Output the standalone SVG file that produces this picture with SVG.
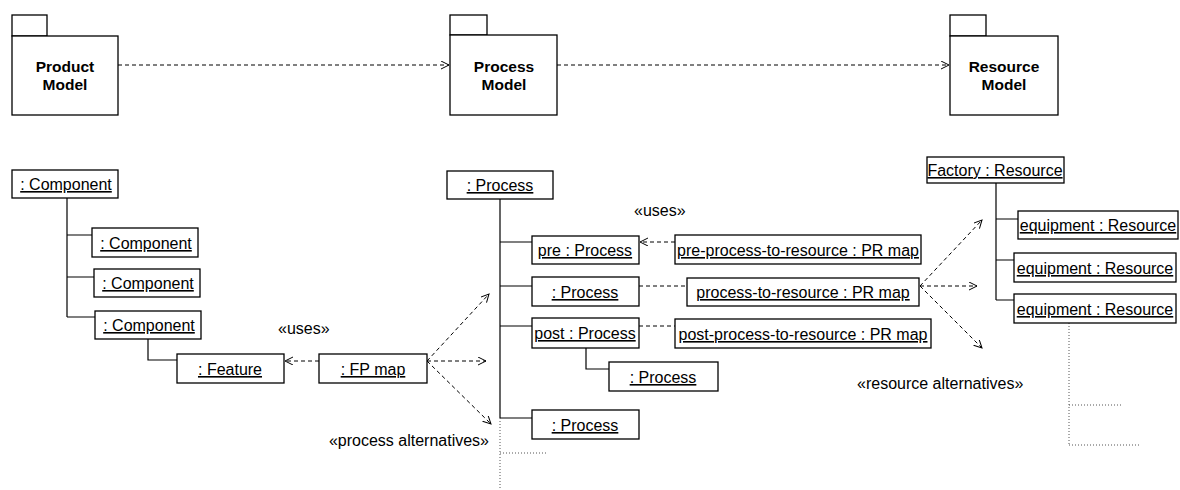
<svg xmlns="http://www.w3.org/2000/svg" width="1180" height="490" viewBox="0 0 1180 490">
<style>
.box{fill:#fff;stroke:#000;stroke-width:1.3}
.t{font-family:"Liberation Sans",Arial,sans-serif;font-size:16px;fill:#000;text-anchor:middle;text-decoration:underline}
.pk{font-family:"Liberation Sans",Arial,sans-serif;font-size:15.5px;font-weight:bold;fill:#000;text-anchor:middle}
.lbl{font-family:"Liberation Sans",Arial,sans-serif;font-size:16px;fill:#000}
.solid{fill:none;stroke:#000;stroke-width:1.2}
.dash{fill:none;stroke:#000;stroke-width:1;stroke-dasharray:4 3}
.dot{fill:none;stroke:#555;stroke-width:1;stroke-dasharray:1 2}
</style>
<defs>
<marker id="arr" markerWidth="10" markerHeight="10" refX="8" refY="4" orient="auto" markerUnits="userSpaceOnUse">
<path d="M0,0 L8,4 L0,8" fill="none" stroke="#000" stroke-width="1"/>
</marker>
</defs>
<rect width="1180" height="490" fill="#fff"/>

<g id="connectors">
<line class="dash" x1="118" y1="65" x2="449" y2="65" marker-end="url(#arr)"/>
<line class="dash" x1="557" y1="65" x2="949" y2="65" marker-end="url(#arr)"/>
<path class="solid" d="M67,198 V317 M67,235 H92 M67,277 H94 M67,317 H95 M148,339 V360 H177"/>
<path class="solid" d="M500,199 V418 M500,242 H532 M500,286 H532 M500,326 H532 M500,418 H532 M586,348 V369 H609"/>
<path class="dot" d="M500,418 V490 M500,453 H548"/>
<path class="solid" d="M996,183 V300 M996,219 H1018 M996,260 H1014 M996,300 H1014"/>
<path class="dot" d="M1069,323 V445 M1069,405 H1121 M1069,445 H1141"/>
<line class="dash" x1="319" y1="361" x2="285" y2="361" marker-end="url(#arr)"/>
<line class="dash" x1="427" y1="361" x2="489" y2="294" marker-end="url(#arr)"/>
<line class="dash" x1="427" y1="361" x2="486" y2="361" marker-end="url(#arr)"/>
<line class="dash" x1="427" y1="361" x2="491" y2="424" marker-end="url(#arr)"/>
<line class="dash" x1="675" y1="242" x2="640" y2="242" marker-end="url(#arr)"/>
<line class="dash" x1="639" y1="286" x2="687" y2="286"/>
<line class="dash" x1="639" y1="326" x2="675" y2="326"/>
<line class="dash" x1="920" y1="286" x2="982" y2="220" marker-end="url(#arr)"/>
<line class="dash" x1="920" y1="286" x2="977" y2="286" marker-end="url(#arr)"/>
<line class="dash" x1="920" y1="286" x2="982" y2="348" marker-end="url(#arr)"/>
</g>

<g id="product-model">
<rect class="box" x="12" y="15" width="35" height="21"/>
<rect class="box" x="12" y="36" width="106" height="79"/>
<text class="pk" x="65" y="72">Product</text>
<text class="pk" x="65" y="90">Model</text>
</g>
<g id="process-model">
<rect class="box" x="450" y="15" width="37" height="20"/>
<rect class="box" x="450" y="35" width="107" height="80"/>
<text class="pk" x="504" y="72">Process</text>
<text class="pk" x="504" y="90">Model</text>
</g>
<g id="resource-model">
<rect class="box" x="950" y="15" width="36" height="21"/>
<rect class="box" x="950" y="36" width="108" height="79"/>
<text class="pk" x="1004" y="72">Resource</text>
<text class="pk" x="1004" y="90">Model</text>
</g>

<g id="component-root"><rect class="box" x="12" y="170" width="106" height="28"/><text class="t" x="66" y="190">: Component</text></g>
<g id="component-1"><rect class="box" x="92" y="228" width="106" height="29"/><text class="t" x="146" y="249">: Component</text></g>
<g id="component-2"><rect class="box" x="94" y="269" width="106" height="28"/><text class="t" x="148" y="289">: Component</text></g>
<g id="component-3"><rect class="box" x="95" y="311" width="106" height="28"/><text class="t" x="149" y="331">: Component</text></g>
<g id="feature"><rect class="box" x="177" y="354" width="107" height="29"/><text class="t" x="230" y="375">: Feature</text></g>
<g id="fp-map"><rect class="box" x="319" y="354" width="108" height="29"/><text class="t" x="373" y="375">: FP map</text></g>

<g id="process-root"><rect class="box" x="447" y="171" width="106" height="28"/><text class="t" x="500" y="191">: Process</text></g>
<g id="pre-process"><rect class="box" x="532" y="236" width="107" height="28"/><text class="t" x="585" y="256">pre : Process</text></g>
<g id="process-mid"><rect class="box" x="532" y="277" width="107" height="29"/><text class="t" x="585" y="298">: Process</text></g>
<g id="post-process"><rect class="box" x="532" y="318" width="107" height="30"/><text class="t" x="585" y="339">post : Process</text></g>
<g id="post-sub-process"><rect class="box" x="609" y="362" width="109" height="29"/><text class="t" x="663" y="383">: Process</text></g>
<g id="process-last"><rect class="box" x="532" y="410" width="107" height="29"/><text class="t" x="585" y="431">: Process</text></g>

<g id="pre-pr-map"><rect class="box" x="675" y="235" width="246" height="29"/><text class="t" x="798" y="256">pre-process-to-resource : PR map</text></g>
<g id="pr-map"><rect class="box" x="687" y="278" width="232" height="28"/><text class="t" x="803" y="298">process-to-resource : PR map</text></g>
<g id="post-pr-map"><rect class="box" x="675" y="319" width="256" height="29"/><text class="t" x="803" y="340">post-process-to-resource : PR map</text></g>

<g id="factory"><rect class="box" x="927" y="157" width="137" height="26"/><text class="t" x="995" y="176">Factory : Resource</text></g>
<g id="equipment-1"><rect class="box" x="1018" y="211" width="160" height="28"/><text class="t" x="1098" y="231">equipment : Resource</text></g>
<g id="equipment-2"><rect class="box" x="1014" y="253" width="162" height="29"/><text class="t" x="1095" y="274">equipment : Resource</text></g>
<g id="equipment-3"><rect class="box" x="1014" y="294" width="162" height="29"/><text class="t" x="1095" y="315">equipment : Resource</text></g>

<g id="labels">
<text class="lbl" x="278" y="334">«uses»</text>
<text class="lbl" x="634" y="216">«uses»</text>
<text class="lbl" x="489" y="446" text-anchor="end">«process alternatives»</text>
<text class="lbl" x="857" y="389">«resource alternatives»</text>
</g>
</svg>
